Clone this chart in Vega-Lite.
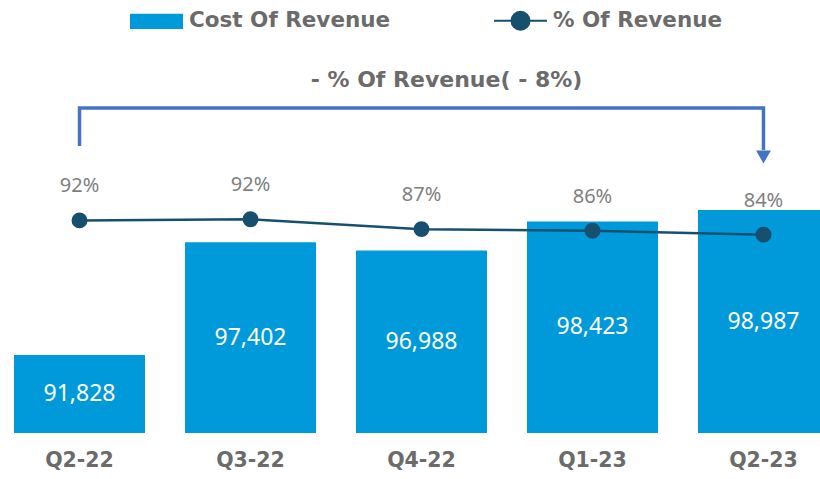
{
  "$schema": "https://vega.github.io/schema/vega-lite/v6.json",
  "width": 820,
  "height": 433,
  "autosize": {"type": "none"},
  "padding": {"left": 0, "top": 0, "right": 0, "bottom": 46},
  "background": "white",
  "config": {"view": {"stroke": null}},
  "datasets": {
    "q": [
      {"quarter": "Q2-22", "cost": 91828, "pct": 0.918},
      {"quarter": "Q3-22", "cost": 97402, "pct": 0.924},
      {"quarter": "Q4-22", "cost": 96988, "pct": 0.872},
      {"quarter": "Q1-23", "cost": 98423, "pct": 0.864},
      {"quarter": "Q2-23", "cost": 98987, "pct": 0.843}
    ],
    "bracket": [
      {"quarter": "Q2-22", "level": 102149, "step": 1},
      {"quarter": "Q2-22", "level": 104025, "step": 2},
      {"quarter": "Q2-23", "level": 104025, "step": 3},
      {"quarter": "Q2-23", "level": 101951, "step": 4}
    ],
    "arrow": [{"quarter": "Q2-23", "level": 101606}],
    "note": [{"quarter": "Q4-22", "level": 105408, "label": "- % Of Revenue( - 8%)"}]
  },
  "layer": [
    {
      "layer": [
        {
          "data": {"name": "q"},
          "mark": {"type": "bar", "clip": true},
          "encoding": {
            "x": {
              "field": "quarter", "type": "nominal", "sort": null,
              "scale": {"type": "band", "range": [0, 843], "paddingInner": 0.234, "paddingOuter": 0.082},
              "axis": {"title": null, "domain": false, "ticks": false, "labelAngle": 0, "labelPadding": 17, "labelFont": "DejaVu Sans", "labelFontWeight": "bold", "labelFontSize": 20.5, "labelColor": "#6b6b6b", "zindex": 1}
            },
            "y": {"field": "cost", "type": "quantitative", "scale": {"domain": [87976, 109359], "zero": false, "nice": false}, "axis": null},
            "color": {
              "datum": "Cost Of Revenue",
              "scale": {"domain": ["Cost Of Revenue", "% Of Revenue"], "range": ["#009ADB", "#17506F"]},
              "legend": {
                "orient": "none", "legendX": 129, "legendY": -7, "direction": "horizontal", "title": null,
                "labelFont": "DejaVu Sans", "labelFontWeight": "bold", "labelFontSize": 21.5, "labelColor": "#6b6b6b",
                "labelOffset": 5, "columnPadding": 99, "symbolSize": 2809, "labelLimit": 400,
                "encode": {
                  "symbols": {
                    "update": {
                      "shape": {"signal": "datum.value === 'Cost Of Revenue' ? 'M-1,-0.29H1V0.29H-1Z' : 'M-1,0H-0.34A0.34,0.34 0 1,1 0.34,0A0.34,0.34 0 1,1 -0.34,0ZM0.34,0H1'"},
                      "fill": {"signal": "datum.value === 'Cost Of Revenue' ? '#009ADB' : '#17506F'"},
                      "stroke": {"signal": "datum.value === 'Cost Of Revenue' ? 'transparent' : '#17506F'"},
                      "strokeWidth": {"value": 2},
                      "opacity": {"value": 1}
                    }
                  }
                }
              }
            }
          }
        },
        {
          "data": {"name": "bracket"},
          "mark": {"type": "line", "color": "#4472C4", "strokeWidth": 3.5, "strokeJoin": "miter"},
          "encoding": {
            "x": {"field": "quarter", "type": "nominal", "sort": null},
            "y": {"field": "level", "type": "quantitative", "scale": {"domain": [87976, 109359], "zero": false, "nice": false}, "axis": null},
            "order": {"field": "step", "type": "quantitative"}
          }
        },
        {
          "data": {"name": "arrow"},
          "mark": {"type": "point", "shape": "triangle-down", "filled": true, "color": "#4472C4", "size": 220, "opacity": 1},
          "encoding": {
            "x": {"field": "quarter", "type": "nominal", "sort": null},
            "y": {"field": "level", "type": "quantitative", "scale": {"domain": [87976, 109359], "zero": false, "nice": false}, "axis": null}
          }
        },
        {
          "data": {"name": "note"},
          "mark": {"type": "text", "font": "DejaVu Sans", "fontWeight": "bold", "fontSize": 22, "color": "#6b6b6b", "dx": 25, "baseline": "middle"},
          "encoding": {
            "x": {"field": "quarter", "type": "nominal", "sort": null},
            "y": {"field": "level", "type": "quantitative", "scale": {"domain": [87976, 109359], "zero": false, "nice": false}, "axis": null},
            "text": {"field": "label"}
          }
        }
      ]
    },
    {
      "data": {"name": "q"},
      "layer": [
        {
          "mark": {"type": "line", "color": "#17506F", "strokeWidth": 2.5},
          "encoding": {
            "x": {"field": "quarter", "type": "nominal", "sort": null},
            "y": {"field": "pct", "type": "quantitative", "scale": {"domain": [-0.201, 2.078], "zero": false, "nice": false}, "axis": null}
          }
        },
        {
          "mark": {"type": "point", "filled": true, "color": "#17506F", "size": 254, "opacity": 1},
          "encoding": {
            "x": {"field": "quarter", "type": "nominal", "sort": null},
            "y": {"field": "pct", "type": "quantitative", "scale": {"domain": [-0.201, 2.078], "zero": false, "nice": false}, "axis": null}
          }
        },
        {
          "mark": {"type": "text", "font": "Noto Sans", "fontSize": 20, "color": "#7f7f7f", "dy": -34, "baseline": "middle"},
          "encoding": {
            "x": {"field": "quarter", "type": "nominal", "sort": null},
            "y": {"field": "pct", "type": "quantitative", "scale": {"domain": [-0.201, 2.078], "zero": false, "nice": false}, "axis": null},
            "text": {"field": "pct", "type": "quantitative", "format": ".0%"}
          }
        }
      ]
    },
    {
      "data": {"name": "q"},
      "mark": {"type": "text", "font": "Noto Sans", "fontSize": 23, "color": "white", "baseline": "middle"},
      "encoding": {
        "x": {"field": "quarter", "type": "nominal", "sort": null},
        "y": {"field": "cost", "type": "quantitative", "scale": {"domain": [87976, 130742], "zero": false, "nice": false}, "axis": null},
        "text": {"field": "cost", "type": "quantitative", "format": ","}
      }
    }
  ],
  "resolve": {"scale": {"y": "independent"}}
}
